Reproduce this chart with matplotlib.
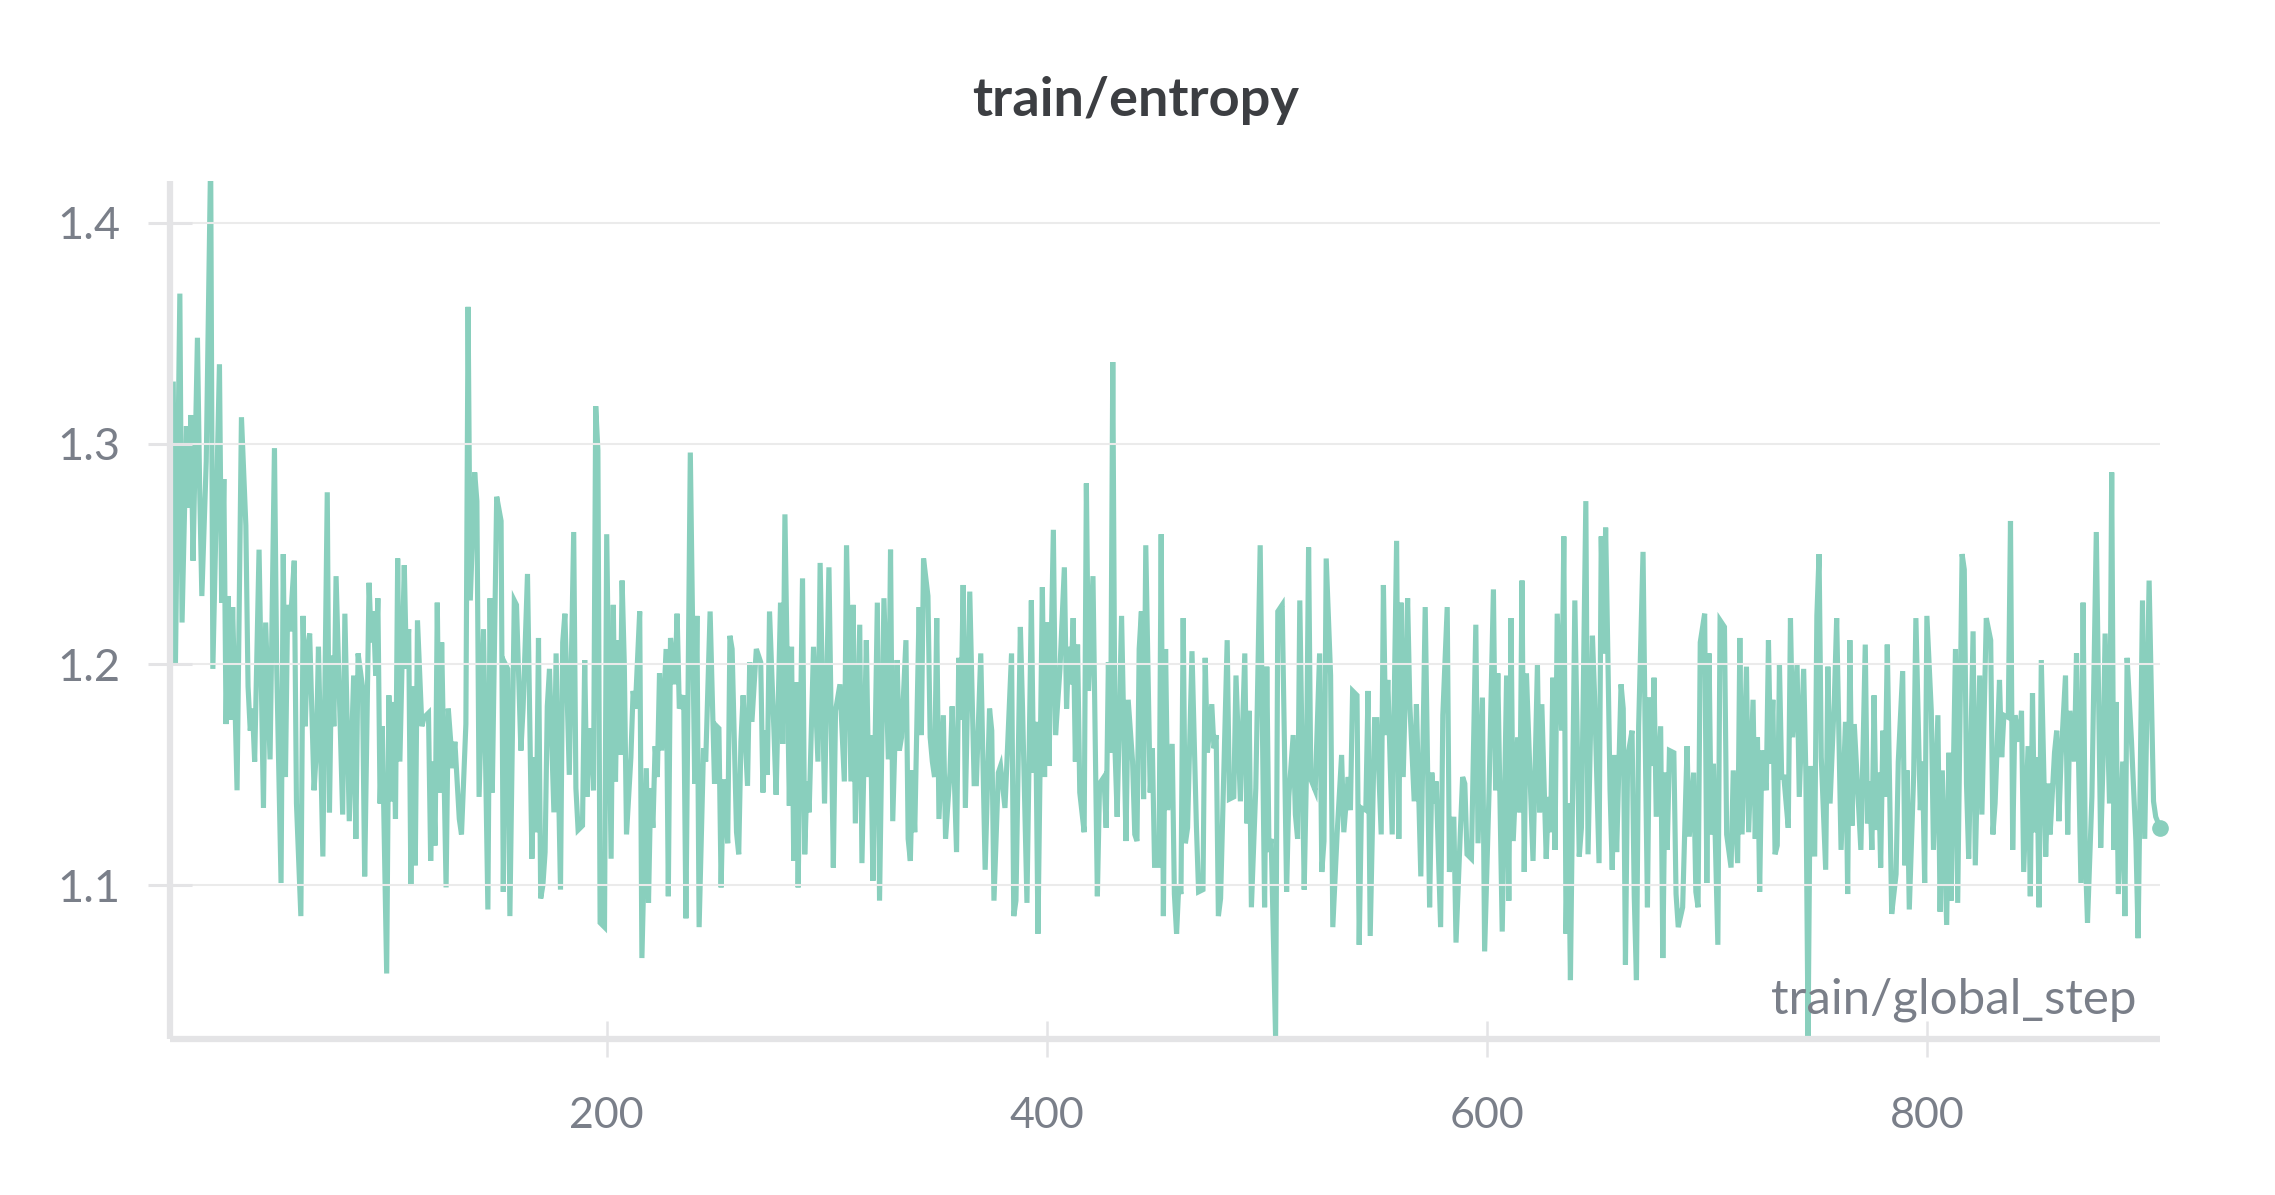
import matplotlib
matplotlib.use("Agg")
import matplotlib.pyplot as plt

# ---------------- data ----------------
steps = [
    3, 4, 6, 7, 9, 10, 11, 12, 14, 15, 16, 18, 20, 21, 24, 25, 26, 27, 28, 29, 30, 32, 34, 36, 37, 38, 39, 40,
    42, 44, 45, 47, 49, 50, 52, 53, 54, 55, 56, 58, 59, 61, 62, 63, 64, 65, 67, 68, 69, 71, 73, 74, 75, 76,
    77, 80, 81, 83, 85, 86, 87, 89, 90,
    92, 93, 94, 95, 96, 97, 98, 100, 101, 102, 103, 104, 105, 106, 108, 109, 110, 111, 112, 113, 114, 116,
    117, 119, 120, 121, 122, 123, 124, 125, 127, 128, 130, 131, 133, 134, 136, 137, 138, 140, 141, 142, 144,
    146, 147, 148, 150, 152, 153, 154, 155, 156, 158, 159, 161, 162, 164, 166, 167, 168, 169, 170, 171, 172,
    173, 174, 176, 177, 179, 180, 181,
    183, 185, 186, 187, 189, 190, 191, 192, 193, 194, 195, 196, 197, 199, 200, 202, 203, 204, 205, 206, 207,
    208, 209, 211, 212, 213, 215, 216, 218, 219, 220, 221, 222, 223, 224, 225, 227, 228, 229, 231, 232, 233,
    235, 236, 238, 240, 241, 242, 244, 245, 247, 249, 250, 251, 252, 253, 255, 256, 257, 259, 260, 261, 262,
    264, 265, 266, 268, 270, 271, 272, 273, 274,
    276, 277, 279, 280, 281, 283, 284, 285, 286, 287, 289, 290, 291, 292, 294, 296, 297, 299, 301, 303, 304,
    306, 308, 309, 311, 312, 313, 315, 316, 318, 319, 320, 321, 323, 324, 326, 328, 329, 330, 332, 333, 334,
    336, 337, 338, 339, 340, 342, 343, 344, 346, 347, 348, 349, 350, 351, 353, 354, 356, 357, 359, 360, 361,
    362, 363, 365,
    367, 368, 370, 372, 374, 375, 376, 378, 379, 381, 384, 385, 386, 388, 389, 391, 393, 394, 395, 396, 398,
    399, 400, 401, 403, 404, 406, 408, 409, 410, 411, 412, 413, 414, 415, 417, 418, 419, 421, 423, 424, 426,
    427, 428, 429, 430, 431, 432, 434, 436, 437, 439, 440, 441, 442, 443, 444, 445, 447, 448, 449, 451, 452,
    453, 454, 455,
    457, 458, 459, 460, 461, 462, 463, 464, 466, 468, 469, 471, 472, 473, 475, 476, 477, 478, 479, 482, 483,
    485, 486, 488, 490, 491, 492, 493, 495, 497, 499, 500, 501, 502, 504, 505, 507, 508, 509, 510, 512, 513,
    514, 515, 517, 518, 519, 520, 522, 524, 525, 526, 527, 529, 530, 532, 534, 535, 537, 538, 539, 541, 542,
    543, 545, 546, 547,
    549, 550, 552, 553, 554, 555, 557, 559, 560, 561, 562, 564, 565, 567, 568, 570, 572, 574, 575, 576, 577,
    579, 580, 582, 583, 585, 586, 588, 589, 590, 591, 593, 595, 596, 598, 599, 601, 603, 604, 605, 607, 609,
    610, 611, 612, 614, 615, 616, 617, 618, 621, 623, 624, 625, 627, 628, 629, 630, 631, 632, 634, 635, 636,
    637, 638, 640, 642, 643, 645, 646, 648, 649, 651, 652, 653, 654, 655, 656, 657, 658, 659, 661, 662, 663,
    664, 666, 667, 668, 669, 671, 672, 673, 674, 675, 676, 677, 679, 680, 681, 682, 683, 685, 686, 687, 689,
    691, 692, 694, 695, 696, 697, 699, 700, 701, 702, 703, 705, 706, 708, 709, 711, 712, 714, 715, 716, 718,
    719, 721, 722, 723, 724, 725, 727, 728,
    729, 730, 731, 732, 733, 734, 735, 737, 738, 739, 741, 742, 744, 745, 746, 747, 749, 750, 751, 752, 754,
    755, 756, 758, 759, 761, 763, 764, 765, 766, 767, 770, 772, 773, 774, 775, 776, 777, 778, 779, 780, 781,
    782, 784, 786, 787, 789, 790, 791, 792, 794, 795, 797, 798, 799, 800, 802, 803, 805, 806, 807, 809, 810,
    811, 813, 814, 816, 817,
    818, 819, 821, 822, 824, 825, 827, 829, 830, 831, 833, 834, 835, 837, 838, 839, 840, 842, 843, 844, 846,
    847, 848, 849, 850, 851, 852, 854, 855, 856, 858, 859, 860, 861, 863, 864, 865, 867, 868, 870, 871, 872,
    873, 875, 877, 879, 880, 881, 883, 884, 885, 886, 887, 889, 890, 891, 893, 895, 896, 898, 899, 901, 903,
    904, 906,
]

entropy = [
    1.327, 1.200, 1.368, 1.219, 1.308, 1.271, 1.313, 1.247, 1.348, 1.280, 1.231, 1.292, 1.430, 1.198, 1.336,
    1.228, 1.284, 1.173, 1.231, 1.175, 1.226, 1.143, 1.312, 1.263, 1.190, 1.170, 1.180, 1.156,
    1.252, 1.135, 1.219, 1.157, 1.298, 1.200, 1.101, 1.250, 1.149, 1.227, 1.215, 1.247, 1.137, 1.086, 1.222,
    1.172, 1.207, 1.214, 1.143, 1.160, 1.208, 1.113, 1.278, 1.133, 1.204, 1.172,
    1.240, 1.132, 1.223, 1.129, 1.195, 1.121, 1.205, 1.190, 1.104,
    1.237, 1.210, 1.224, 1.195, 1.230, 1.137, 1.172, 1.060, 1.186, 1.138, 1.183, 1.130, 1.248, 1.156, 1.245,
    1.198, 1.216, 1.100, 1.190, 1.109, 1.220, 1.172,
    1.176, 1.178, 1.111, 1.156, 1.118, 1.228, 1.142, 1.210, 1.099, 1.180, 1.153, 1.165, 1.130, 1.123, 1.173,
    1.362, 1.229, 1.287, 1.274, 1.140, 1.216,
    1.089, 1.230, 1.142, 1.276, 1.265, 1.097, 1.200, 1.198, 1.086, 1.229, 1.227, 1.161, 1.180, 1.241, 1.112,
    1.158, 1.124, 1.212, 1.094, 1.100, 1.115,
    1.181, 1.198, 1.133, 1.205, 1.098, 1.210, 1.223,
    1.150, 1.260, 1.144, 1.125, 1.127, 1.202, 1.140, 1.171, 1.165, 1.143, 1.317, 1.297, 1.083, 1.081, 1.259,
    1.112, 1.227, 1.147, 1.211, 1.159, 1.238,
    1.200, 1.123, 1.158, 1.188, 1.180, 1.224, 1.067, 1.153, 1.092, 1.144, 1.126, 1.163, 1.149, 1.196, 1.161,
    1.207, 1.095, 1.212, 1.191, 1.223, 1.180,
    1.186, 1.085, 1.296, 1.146, 1.222, 1.081, 1.162, 1.156, 1.224, 1.146, 1.172, 1.171, 1.099, 1.148, 1.119,
    1.213, 1.207, 1.124, 1.114, 1.165, 1.186,
    1.145, 1.201, 1.174, 1.207, 1.201, 1.142, 1.170, 1.150, 1.224,
    1.170, 1.141, 1.228, 1.164, 1.268, 1.136, 1.208, 1.111, 1.192, 1.099, 1.239, 1.114, 1.147, 1.133, 1.208,
    1.156, 1.246, 1.137, 1.244, 1.108, 1.179,
    1.191, 1.147, 1.254, 1.147, 1.227, 1.128, 1.218, 1.110, 1.211, 1.149, 1.168, 1.102, 1.228, 1.093, 1.230,
    1.157, 1.252, 1.129, 1.202, 1.161, 1.167,
    1.211, 1.121, 1.111, 1.152, 1.124, 1.226, 1.168, 1.248, 1.231, 1.167, 1.156, 1.149, 1.221, 1.130, 1.177,
    1.121, 1.151, 1.181, 1.115, 1.203, 1.175,
    1.236, 1.135, 1.233,
    1.146, 1.146, 1.205, 1.107, 1.180, 1.170, 1.093, 1.151, 1.154, 1.135, 1.205, 1.086, 1.093, 1.217, 1.180,
    1.092, 1.229, 1.151, 1.174, 1.078, 1.235,
    1.149, 1.219, 1.154, 1.261, 1.168, 1.198, 1.244, 1.180, 1.208, 1.191, 1.221, 1.156, 1.209, 1.142, 1.124,
    1.282, 1.188, 1.240, 1.095, 1.146, 1.149,
    1.126, 1.201, 1.160, 1.337, 1.162, 1.131, 1.222, 1.120, 1.184, 1.156, 1.123, 1.120, 1.207, 1.224, 1.139,
    1.254, 1.142, 1.162, 1.109, 1.109, 1.259,
    1.086, 1.207, 1.134,
    1.164, 1.096, 1.078, 1.100, 1.096, 1.221, 1.119, 1.126, 1.206, 1.127, 1.097, 1.098, 1.203, 1.160, 1.182,
    1.162, 1.168, 1.086, 1.094, 1.211, 1.139,
    1.140, 1.195, 1.138, 1.205, 1.128, 1.179, 1.090, 1.144, 1.254, 1.090, 1.199, 1.115, 1.121, 1.031, 1.224,
    1.227, 1.165, 1.097, 1.140, 1.168, 1.132,
    1.121, 1.229, 1.098, 1.150, 1.253, 1.148, 1.143, 1.205, 1.106, 1.120, 1.248, 1.195, 1.081, 1.124, 1.159,
    1.124, 1.149, 1.134, 1.188, 1.186, 1.073,
    1.135, 1.134, 1.188, 1.077,
    1.175, 1.175, 1.123, 1.236, 1.168, 1.193, 1.123, 1.256, 1.121, 1.228, 1.149, 1.230, 1.182, 1.138, 1.182,
    1.104, 1.226, 1.090, 1.151, 1.137, 1.147,
    1.081, 1.177, 1.226, 1.106, 1.131, 1.074, 1.125, 1.149, 1.146, 1.114, 1.112, 1.218, 1.119, 1.185, 1.070,
    1.142, 1.234, 1.143, 1.196, 1.079, 1.195,
    1.093, 1.221, 1.120, 1.167, 1.133, 1.238, 1.106, 1.196, 1.111, 1.200, 1.133, 1.182, 1.112, 1.140, 1.124,
    1.194, 1.116, 1.223, 1.170, 1.258, 1.078,
    1.137, 1.057, 1.229, 1.113, 1.126, 1.274, 1.114, 1.213, 1.185, 1.110, 1.258, 1.205, 1.262, 1.205, 1.143,
    1.107, 1.159, 1.115, 1.191, 1.180, 1.064,
    1.158, 1.170, 1.095, 1.057, 1.172, 1.251, 1.165, 1.090, 1.185, 1.154, 1.194, 1.131, 1.172, 1.067, 1.151,
    1.116, 1.161, 1.160, 1.096, 1.081, 1.090,
    1.163, 1.122, 1.151, 1.097, 1.090, 1.210, 1.223, 1.101, 1.205, 1.123, 1.155, 1.073, 1.220, 1.217, 1.123,
    1.108, 1.152, 1.110, 1.212, 1.123, 1.199,
    1.124, 1.184, 1.121, 1.167, 1.097, 1.161, 1.143, 1.211,
    1.155, 1.184, 1.114, 1.118, 1.200, 1.149, 1.149, 1.126, 1.221, 1.167, 1.200, 1.140, 1.198, 1.150, 1.031,
    1.154, 1.113, 1.222, 1.250, 1.158, 1.107,
    1.199, 1.137, 1.186, 1.221, 1.116, 1.174, 1.096, 1.211, 1.127, 1.173, 1.116, 1.209, 1.128, 1.147, 1.116,
    1.186, 1.125, 1.151, 1.108, 1.170, 1.140,
    1.209, 1.087, 1.105, 1.156, 1.197, 1.109, 1.152, 1.089, 1.150, 1.221, 1.134, 1.156, 1.101, 1.222, 1.179,
    1.116, 1.177, 1.088, 1.152, 1.082, 1.160,
    1.093, 1.207, 1.092, 1.250, 1.243,
    1.146, 1.112, 1.215, 1.109, 1.195, 1.132, 1.221, 1.211, 1.123, 1.137, 1.193, 1.158, 1.177, 1.176, 1.265,
    1.116, 1.177, 1.165, 1.179, 1.106, 1.163,
    1.095, 1.187, 1.124, 1.158, 1.090, 1.202, 1.113, 1.146, 1.123, 1.160, 1.170, 1.129, 1.158, 1.195, 1.123,
    1.179, 1.156, 1.205, 1.101, 1.228, 1.114,
    1.083, 1.140, 1.260, 1.117, 1.154, 1.214, 1.137, 1.287, 1.116, 1.183, 1.096, 1.156, 1.086, 1.203, 1.165,
    1.120, 1.076, 1.229, 1.121, 1.238, 1.138,
    1.131, 1.126,
]

title = "train/entropy"
x_label = "train/global_step"
x_ticks = [200, 400, 600, 800]
y_ticks = [1.1, 1.2, 1.3, 1.4]
y_tick_labels = ["1.1", "1.2", "1.3", "1.4"]

assert len(steps) == len(entropy)

# ---------------- style ----------------
FONT = ["Lato", "DejaVu Sans"]
plt.rcParams["font.family"] = FONT
LINE = "#89cfbd"
TEXT = "#7a7f89"
AXIS = "#e4e4e6"
GRID = "#ebebeb"

fig = plt.figure(figsize=(22.75, 11.95), dpi=100)
ax = fig.add_axes([0.0747, 0.1305, 0.8748, 0.718])

ax.plot(steps, entropy, color=LINE, lw=3.7, solid_joinstyle="miter", zorder=2)
ax.plot([steps[-1]], [entropy[-1]], "o", color=LINE, ms=11, zorder=3, clip_on=False)

ax.set_xlim(1.5, 906)
ax.set_ylim(1.0303, 1.419)

ax.set_xticks(x_ticks)
ax.set_xticklabels([str(t) for t in x_ticks])
ax.set_yticks(y_ticks)
ax.set_yticklabels(y_tick_labels)

ax.grid(axis="y", color=GRID, lw=1.5, zorder=0)
ax.grid(axis="x", visible=False)
ax.set_axisbelow(False)

for s in ["top", "right"]:
    ax.spines[s].set_visible(False)
for s in ["left", "bottom"]:
    ax.spines[s].set_color(AXIS)
    ax.spines[s].set_linewidth(4.5)
    ax.spines[s].set_capstyle("butt")

ax.tick_params(axis="y", direction="inout", length=31, width=2.2, color=AXIS,
               labelsize=32.5, labelcolor=TEXT, pad=20)
ax.tick_params(axis="x", direction="inout", length=26, width=1.8, color=AXIS,
               labelsize=31, labelcolor=TEXT, pad=28.5)

fig.text(0.4993, 0.9155, title, ha="center", va="center", fontsize=39,
         fontweight="bold", color="#3c3e42")
fig.text(0.9393, 0.1635, x_label, ha="right", va="center", fontsize=35.5, color=TEXT)

fig.savefig("out.png", dpi=100, facecolor="white")
